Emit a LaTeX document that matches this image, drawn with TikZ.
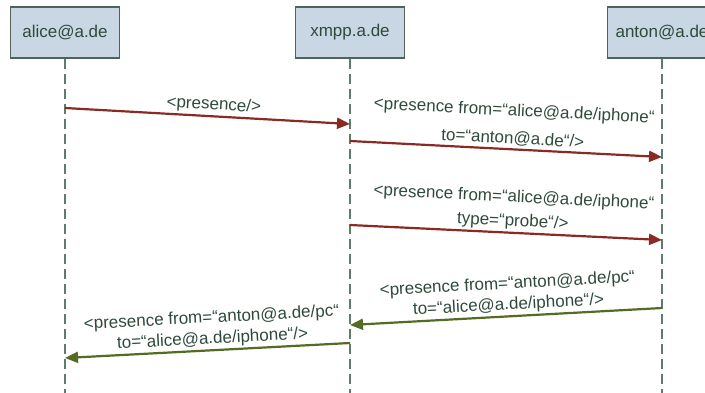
\documentclass[tikz,border=0pt]{standalone}
\usepackage{fontspec}
\setmainfont{Liberation Sans}
\usetikzlibrary{arrows.meta}
\definecolor{boxfill}{HTML}{C9D7E4}
\definecolor{boxline}{HTML}{4E6457}
\definecolor{lifecol}{HTML}{5E7B6C}
\definecolor{txtcol}{HTML}{2F4A3B}
\definecolor{msgred}{HTML}{8A2A24}
\definecolor{msggreen}{HTML}{556B24}
\begin{document}
\begin{tikzpicture}[x=1pt,y=-1pt,
  actor/.style={draw=boxline, line width=1.1pt, fill=boxfill, minimum width=109pt, minimum height=51pt, inner sep=0pt, text=txtcol, font=\fontsize{17}{20}\selectfont},
  lifeline/.style={draw=lifecol, line width=1.4pt, dash pattern=on 10pt off 5pt},
  msg/.style={line width=2.2pt, -{Triangle[length=13pt,width=11pt]}},
  redmsg/.style={msg, draw=msgred, color=msgred},
  greenmsg/.style={msg, draw=msggreen, color=msggreen},
  lbl/.style={sloped, above, align=center, inner sep=2pt, text=txtcol, font=\fontsize{17}{20}\selectfont}
]
\useasboundingbox (0,0) rectangle (705,392);
\clip (0,0) rectangle (705,392);

\node[actor] (alice) at (65,32.5) {alice@a.de};
\node[actor] (xmpp) at (350,32.5) {xmpp.a.de};
\node[actor] (anton) at (662,32.5) {anton@a.de};

\coordinate (aliceend) at (65,395);
\coordinate (xmppend) at (350,395);
\coordinate (antonend) at (662,395);
\draw[lifeline] (alice.south) -- (aliceend);
\draw[lifeline] (xmpp.south) -- (xmppend);
\draw[lifeline] (anton.south) -- (antonend);

% message end points on the lifelines
\coordinate (m1s) at (65,108);
\coordinate (m1e) at (350,124);
\coordinate (m2s) at (350,141);
\coordinate (m2e) at (662,157);
\coordinate (m3s) at (350,225);
\coordinate (m3e) at (662,240);
\coordinate (m4s) at (662,308);
\coordinate (m4e) at (350,325);
\coordinate (m5s) at (350,343);
\coordinate (m5e) at (65,358);

\draw[redmsg] (m1s) -- node[lbl, pos=0.52] (l1) {<presence/>} (m1e);
\draw[redmsg] (m2s) -- node[lbl, pos=0.52] (l2) {<presence from=“alice@a.de/iphone“\\[8pt]to=“anton@a.de“/>} (m2e);
\draw[redmsg] (m3s) -- node[lbl, pos=0.52] (l3) {<presence from=“alice@a.de/iphone“\\[4pt]type=“probe“/>} (m3e);
\draw[greenmsg] (m4s) -- node[lbl, pos=0.49] (l4) {<presence from=“anton@a.de/pc“\\[1pt]to=“alice@a.de/iphone“/>} (m4e);
\draw[greenmsg] (m5s) -- node[lbl, pos=0.48] (l5) {<presence from=“anton@a.de/pc“\\[1pt]to=“alice@a.de/iphone“/>} (m5e);
\end{tikzpicture}
\end{document}
